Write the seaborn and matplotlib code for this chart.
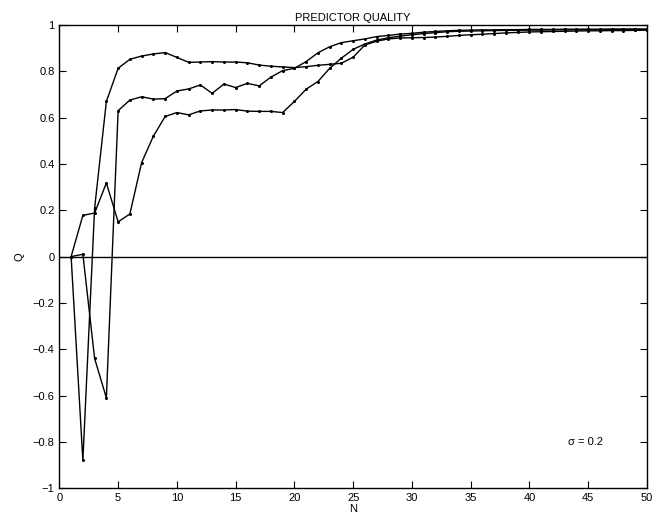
import numpy as np
import pandas as pd
import seaborn as sns
import matplotlib.pyplot as plt
from matplotlib.ticker import FuncFormatter

# Predictor quality Q for the three runs, N = 1..50
n_values = list(range(1, 51))

q_top = [0.0, -0.88, 0.21, 0.67, 0.813, 0.852, 0.866, 0.875, 0.881, 0.86,
         0.839, 0.84, 0.842, 0.84, 0.84, 0.837, 0.827, 0.822, 0.819, 0.816,
         0.82, 0.826, 0.83, 0.835, 0.861, 0.914, 0.93, 0.94, 0.944, 0.945,
         0.946, 0.948, 0.951, 0.955, 0.958, 0.96, 0.963, 0.966, 0.968, 0.97,
         0.971, 0.972, 0.973, 0.974, 0.975, 0.975, 0.976, 0.976, 0.977, 0.978]

q_mid = [0.0, 0.01, -0.44, -0.61, 0.63, 0.676, 0.69, 0.68, 0.682, 0.715,
         0.724, 0.741, 0.705, 0.745, 0.73, 0.748, 0.737, 0.775, 0.803, 0.813,
         0.842, 0.88, 0.906, 0.924, 0.932, 0.94, 0.95, 0.955, 0.961, 0.964,
         0.969, 0.972, 0.975, 0.977, 0.978, 0.979, 0.979, 0.98, 0.98, 0.981,
         0.981, 0.981, 0.982, 0.982, 0.982, 0.982, 0.983, 0.983, 0.983, 0.983]

q_low = [0.0, 0.178, 0.188, 0.318, 0.15, 0.184, 0.406, 0.52, 0.605, 0.622,
         0.612, 0.629, 0.633, 0.633, 0.635, 0.628, 0.627, 0.627, 0.622, 0.67,
         0.723, 0.756, 0.813, 0.857, 0.895, 0.918, 0.935, 0.945, 0.952, 0.958,
         0.963, 0.967, 0.971, 0.973, 0.974, 0.975, 0.976, 0.977, 0.977, 0.978,
         0.978, 0.979, 0.979, 0.979, 0.98, 0.98, 0.98, 0.98, 0.98, 0.98]

df = pd.concat([
    pd.DataFrame({'N': n_values, 'Q': q_top, 'run': 'a'}),
    pd.DataFrame({'N': n_values, 'Q': q_mid, 'run': 'b'}),
    pd.DataFrame({'N': n_values, 'Q': q_low, 'run': 'c'}),
], ignore_index=True)

sns.set_style('ticks')
plt.rcParams['font.family'] = ['Liberation Sans', 'DejaVu Sans']
plt.rcParams['text.color'] = 'black'
plt.rcParams['axes.labelcolor'] = 'black'


def q_fmt(v, pos):
    v = round(v, 1) + 0.0
    return f"{v:g}".replace('-', '\u2212')


fig = plt.figure(figsize=(6.67, 5.21), dpi=100)
ax = fig.add_axes([0.089, 0.063, 0.881, 0.889])

sns.lineplot(data=df, x='N', y='Q', units='run', estimator=None,
             color='black', linewidth=1.0, marker='o', markersize=2.2,
             markeredgewidth=0, ax=ax)

# zero line
ax.axhline(0, color='black', linewidth=1.0)

ax.set_xlim(0, 50)
ax.set_ylim(-1, 1)
ax.set_xticks(np.arange(0, 51, 5))
ax.set_yticks(np.arange(-1, 1.01, 0.2))
ax.yaxis.set_major_formatter(FuncFormatter(q_fmt))

ax.tick_params(direction='in', top=True, right=True, length=5, width=0.8,
               labelsize=8, colors='black')
for s in ax.spines.values():
    s.set_visible(True)
    s.set_linewidth(1.0)
    s.set_color('black')

ax.set_xlabel('N', fontsize=8, labelpad=1, color='black')
ax.set_ylabel('Q', fontsize=8, labelpad=6, color='black')
ax.set_title('PREDICTOR QUALITY', fontsize=8, pad=3, color='black')

ax.text(44.8, -0.8, '\u03c3 = 0.2', fontsize=8, ha='center', va='center', color='black')

plt.savefig('out.png', dpi=100)
plt.close()
